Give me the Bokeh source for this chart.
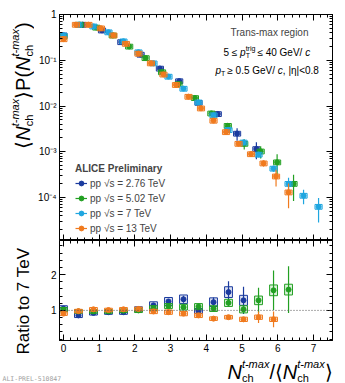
import math
from bokeh.plotting import figure
from bokeh.models import (Range1d, LinearAxis, LogAxis, Label, Span, Legend, LegendItem,
                          CustomJSTickFormatter, SingleIntervalTicker, LogTicker, ColumnDataSource)
from bokeh.layouts import column, row
from bokeh.embed import file_html
from bokeh.resources import INLINE

# ---------------- data ----------------
series_names = ["pp √s = 2.76 TeV", "pp √s = 5.02 TeV", "pp √s = 7 TeV", "pp √s = 13 TeV"]
colors = ["#1a3a9e", "#22a022", "#1fa6e0", "#f07a1e"]

x_276 = [0.00, 0.54, 1.08, 1.62, 2.16, 2.70, 3.24, 3.78, 4.32, 4.86, 5.40]
y_276 = [0.35, 0.60, 0.45, 0.25, 0.133, 0.066, 0.035, 0.0118, 0.0067, 0.0025, 0.00115]
e_276 = [0.01, 0.01, 0.01, 0.02, 0.02, 0.03, 0.05, 0.08, 0.12, 0.30, 0.40]

x_502 = [0.00, 0.46, 0.92, 1.38, 1.84, 2.30, 2.76, 3.22, 3.68, 4.14, 4.60, 5.06, 5.52, 5.98, 6.44]
y_502 = [0.33, 0.60, 0.52, 0.35, 0.20, 0.112, 0.055, 0.030, 0.015, 0.0069, 0.0037, 0.0015,
         0.00102, 0.00059, 0.00020]
e_502 = [0.01, 0.01, 0.01, 0.01, 0.02, 0.02, 0.03, 0.04, 0.06, 0.08, 0.12, 0.25, 0.30, 0.50, 0.58]

x_7 = [0.00, 0.42, 0.84, 1.26, 1.68, 2.10, 2.52, 2.94, 3.36, 3.78, 4.20, 4.62, 5.04, 5.46,
       5.88, 6.30, 6.72, 7.14]
y_7 = [0.35, 0.60, 0.55, 0.41, 0.26, 0.15, 0.086, 0.044, 0.024, 0.012, 0.0063, 0.0030,
       0.0016, 0.00087, 0.00043, 0.00020, 0.00011, 0.000063]
e_7 = [0.01, 0.01, 0.01, 0.01, 0.01, 0.01, 0.02, 0.02, 0.03, 0.03, 0.04, 0.05, 0.06, 0.10,
       0.15, 0.35, 0.35, 0.55]

x_13 = [0.00, 0.35, 0.70, 1.05, 1.40, 1.75, 2.10, 2.45, 2.80, 3.15, 3.50, 3.85, 4.20, 4.55,
        4.90, 5.25, 5.60, 5.95, 6.30]
y_13 = [0.29, 0.60, 0.60, 0.50, 0.35, 0.23, 0.14, 0.086, 0.049, 0.029, 0.016, 0.0089, 0.0048,
        0.0027, 0.0015, 0.00089, 0.00056, 0.00029, 0.00013]
e_13 = [0.01, 0.01, 0.01, 0.01, 0.01, 0.01, 0.01, 0.02, 0.02, 0.02, 0.03, 0.03, 0.04, 0.04,
        0.05, 0.08, 0.15, 0.40, 0.55]

sys_top = [0.12, 0.12, 0.12, 0.12]

# ratio to 7 TeV (evaluated on the 7 TeV bins)
rx_276 = [0.00, 0.42, 0.84, 1.26, 1.68, 2.10, 2.52, 2.94, 3.36, 3.78, 4.20, 4.62, 5.04]
r_276 = [1.05, 0.86, 0.93, 0.95, 0.95, 1.03, 1.14, 1.25, 1.31, 0.98, 1.23, 1.51, 1.28]
rs_276 = [0.02, 0.02, 0.02, 0.02, 0.02, 0.03, 0.04, 0.06, 0.10, 0.04, 0.13, 0.30, 0.38]
ry_276 = [0.08, 0.06, 0.06, 0.06, 0.06, 0.07, 0.10, 0.11, 0.12, 0.07, 0.12, 0.15, 0.14]

rx_502 = [0.00, 0.42, 0.84, 1.26, 1.68, 2.10, 2.52, 2.94, 3.36, 3.78, 4.20, 4.62, 5.04, 5.46,
          5.88, 6.30]
r_502 = [1.02, 0.97, 0.97, 0.97, 0.99, 1.00, 1.06, 1.12, 1.09, 1.11, 1.05, 1.21, 1.03, 1.28,
         1.56, 1.58]
rs_502 = [0.01, 0.01, 0.01, 0.01, 0.02, 0.02, 0.03, 0.04, 0.05, 0.06, 0.06, 0.10, 0.10, 0.35,
          0.55, 0.65]
ry_502 = [0.06, 0.05, 0.05, 0.05, 0.05, 0.06, 0.07, 0.07, 0.08, 0.08, 0.08, 0.10, 0.10, 0.12,
          0.15, 0.15]

rx_13 = [0.00, 0.42, 0.84, 1.26, 1.68, 2.10, 2.52, 2.94, 3.36, 3.78, 4.20, 4.62, 5.04, 5.46, 5.88]
r_13 = [0.91, 0.98, 1.03, 1.01, 1.03, 1.04, 0.97, 0.95, 0.91, 0.86, 0.77, 0.81, 0.75, 0.81, 0.75]
rs_13 = [0.01, 0.01, 0.01, 0.01, 0.01, 0.01, 0.02, 0.02, 0.02, 0.03, 0.03, 0.04, 0.05, 0.16, 0.22]
ry_13 = [0.05, 0.05, 0.05, 0.05, 0.05, 0.05, 0.06, 0.06, 0.06, 0.06, 0.05, 0.05, 0.06, 0.06, 0.06]

x_ticks_step = 1

FONT = "Liberation Sans"
LW = 34          # width of the left title strip
W = 309          # width of the data panels
BOX_W = 0.2

# ---------------- figures ----------------
top = figure(width=W, height=240, x_range=Range1d(-0.11, 7.53), y_range=Range1d(1.15e-5, 1.0),
             y_axis_type="log", output_backend="svg", toolbar_location=None,
             min_border_left=25, min_border_right=11, min_border_top=14, min_border_bottom=0)
bot = figure(width=W, height=115, x_range=top.x_range, y_range=Range1d(0.16, 2.95),
             output_backend="svg", toolbar_location=None,
             min_border_left=25, min_border_right=11, min_border_top=0, min_border_bottom=15)


def text_canvas(w, h):
    f = figure(width=w, height=h, output_backend="svg", toolbar_location=None,
               x_axis_location=None, y_axis_location=None, min_border=0, min_border_left=0,
               min_border_right=0, min_border_top=0, min_border_bottom=0)
    f.grid.visible = False
    f.outline_line_color = None
    f.background_fill_color = "white"
    f.border_fill_color = "white"
    try:
        f.frame_align = False
    except Exception:
        pass
    return f


lt = text_canvas(LW, 240)
lb = text_canvas(LW, 115)
xf = text_canvas(LW + W, 27)

empty = CustomJSTickFormatter(code="return ''")
logfmt = CustomJSTickFormatter(code="""
const e = Math.round(Math.log10(tick));
if (e == 0) return '1';
const sup = {'-':'\u207b','0':'\u2070','1':'\u00b9','2':'\u00b2','3':'\u00b3','4':'\u2074','5':'\u2075','6':'\u2076','7':'\u2077','8':'\u2078','9':'\u2079'};
return '10' + String(e).split('').map(c => sup[c]).join('');
""")


def style_axis(ax, labels=True):
    ax.major_tick_in = 6
    ax.major_tick_out = 0
    ax.minor_tick_in = 3
    ax.minor_tick_out = 0
    ax.axis_line_color = "black"
    ax.major_tick_line_color = "black"
    ax.minor_tick_line_color = "black"
    ax.major_label_text_font = FONT
    ax.major_label_text_font_size = "10px"
    ax.major_label_text_color = "black"
    if labels:
        ax.major_label_standoff = 3
    else:
        ax.formatter = empty
        ax.major_label_standoff = 0
        ax.major_label_text_font_size = "0px"


for fig in (top, bot):
    fig.grid.visible = False
    fig.outline_line_color = "black"
    fig.outline_line_width = 1
    fig.background_fill_color = "white"
    fig.border_fill_color = "white"

# top panel axes
top.xaxis.ticker = SingleIntervalTicker(interval=x_ticks_step, num_minor_ticks=5)
style_axis(top.xaxis[0], labels=False)
top.yaxis.ticker = LogTicker(num_minor_ticks=10)
top.yaxis.formatter = logfmt
style_axis(top.yaxis[0], labels=True)
ax = LinearAxis(ticker=SingleIntervalTicker(interval=x_ticks_step, num_minor_ticks=5))
style_axis(ax, labels=False)
top.add_layout(ax, "above")
ax = LogAxis(ticker=LogTicker(num_minor_ticks=10))
style_axis(ax, labels=False)
top.add_layout(ax, "right")

# bottom panel axes
bot.xaxis.ticker = SingleIntervalTicker(interval=x_ticks_step, num_minor_ticks=5)
style_axis(bot.xaxis[0], labels=True)
bot.yaxis.ticker = SingleIntervalTicker(interval=1, num_minor_ticks=5)
style_axis(bot.yaxis[0], labels=True)
ax = LinearAxis(ticker=SingleIntervalTicker(interval=x_ticks_step, num_minor_ticks=5))
style_axis(ax, labels=False)
bot.add_layout(ax, "above")
ax = LinearAxis(ticker=SingleIntervalTicker(interval=1, num_minor_ticks=5))
style_axis(ax, labels=False)
bot.add_layout(ax, "right")

# ---------------- top spectra ----------------
top_data = [(x_276, y_276, e_276), (x_502, y_502, e_502), (x_7, y_7, e_7), (x_13, y_13, e_13)]
legend_items = []
for (xs, ys, es), col, name, s in zip(top_data, colors, series_names, sys_top):
    src = ColumnDataSource(dict(
        x=xs, y=ys,
        lo=[y * (1 - e) for y, e in zip(ys, es)], hi=[y * (1 + e) for y, e in zip(ys, es)],
        l=[x - BOX_W / 2 for x in xs], r=[x + BOX_W / 2 for x in xs],
        b=[y * (1 - s) for y in ys], t=[y * (1 + s) for y in ys]))
    top.quad(left="l", right="r", bottom="b", top="t", source=src,
             fill_color=col, fill_alpha=0.15, line_color=col, line_width=1)
    seg = top.segment(x0="x", x1="x", y0="lo", y1="hi", source=src, line_color=col, line_width=1.2)
    dot = top.scatter(x="x", y="y", source=src, marker="circle", size=5, fill_color=col,
                      line_color=col)
    legend_items.append(LegendItem(label=name, renderers=[seg, dot]))

legend = Legend(items=legend_items, location=(16, 6), title="ALICE Preliminary",
                title_text_font=FONT, title_text_font_style="bold", title_text_font_size="10px",
                title_standoff=3, label_text_font=FONT, label_text_font_size="10px",
                glyph_width=12, glyph_height=12, label_height=12, spacing=3, padding=0, margin=0,
                label_standoff=3, border_line_color=None, background_fill_alpha=0)
top.add_layout(legend)

# ---------------- ratio panel ----------------
bot.add_layout(Span(location=1, dimension="width", line_color="#555555", line_dash="1 2",
                    line_width=1))
ratio_data = [(rx_276, r_276, rs_276, ry_276, colors[0]),
              (rx_502, r_502, rs_502, ry_502, colors[1]),
              (rx_13, r_13, rs_13, ry_13, colors[3])]
for xs, rs, st, sy_, col in ratio_data:
    src = ColumnDataSource(dict(
        x=xs, y=rs,
        lo=[r - e for r, e in zip(rs, st)], hi=[r + e for r, e in zip(rs, st)],
        l=[x - 0.11 for x in xs], r=[x + 0.11 for x in xs],
        b=[r - e for r, e in zip(rs, sy_)], t=[r + e for r, e in zip(rs, sy_)]))
    bot.quad(left="l", right="r", bottom="b", top="t", source=src,
             fill_color=col, fill_alpha=0.15, line_color=col, line_width=1)
    bot.segment(x0="x", x1="x", y0="lo", y1="hi", source=src, line_color=col, line_width=1.2)
    bot.scatter(x="x", y="y", source=src, marker="circle", size=5, fill_color=col, line_color=col)

# ---------------- composed texts ----------------
W_EM = {"N": .722, "c": .5, "h": .556, "t": .278, "-": .333, "m": .833, "a": .556, "x": .5,
        "/": .278, "⟨": .39, "⟩": .39, "P": .667, "(": .333, ")": .333, " ": .278, "≤": .549,
        "≥": .549, "G": .778, "e": .556, "V": .667, "T": .611, "r": .333, "i": .222, "g": .556,
        "p": .556, ".": .278, ",": .278, "|": .26, "η": .556, "<": .584, "s": .5, "o": .556,
        "n": .556, "R": .722}


def tw(s, size):
    return sum(W_EM.get(ch, .556) for ch in s) * size


def gw(g):
    # advance of a group; a ("", px) entry is a pure gap of px pixels
    return max((t[1] if t[0] == "" else tw(t[0], t[1])) for t in g)


def compose(fig, groups, sx, sy, vertical=False, align="left", color="black"):
    total = sum(gw(g) for g in groups)
    pos = -total if align == "right" else 0.0
    for g in groups:
        for t in g:
            if t[0] == "":
                continue
            txt, size, style, shift = t
            if vertical:
                x, y, ang = sx - shift, sy + pos, math.pi / 2
            else:
                x, y, ang = sx + pos, sy + shift, 0
            fig.add_layout(Label(x=x, y=y, x_units="screen", y_units="screen", text=txt,
                                 text_font=FONT, text_font_size=f"{size}px",
                                 text_font_style=style, angle=ang, text_align="left",
                                 text_baseline="alphabetic", text_color=color))
        pos += gw(g)


NCH = [[("N", 20, "italic", 0)], [("ch", 11, "normal", -6), ("t-max", 11, "italic", 8)]]

# y title of the top panel
compose(lt, [[("⟨", 20, "normal", 0)]] + NCH + [[("⟩", 20, "normal", 0)],
             [("P", 20, "normal", 0)], [("(", 20, "normal", 0)]] + NCH +
        [[(")", 20, "normal", 0)]], 22, 92, vertical=True)

# y title of the ratio panel
compose(lb, [[("Ratio to 7 TeV", 17, "normal", 0)]], 23, 1, vertical=True)

# x title of the ratio panel
compose(xf, NCH + [[("/", 20, "normal", 0)], [("⟨", 20, "normal", 0)]] + NCH +
        [[("⟩", 20, "normal", 0)]], 332, 11, align="right")

xf.add_layout(Label(x=2, y=4, x_units="screen", y_units="screen", text="ALI-PREL-510847",
                    text_font="DejaVu Sans Mono", text_font_size="6.5px", text_color="#a0a0a0",
                    text_baseline="alphabetic"))

# region description
top.add_layout(Label(x=210, y=208, x_units="screen", y_units="screen", text="Trans-max region",
                     text_font=FONT, text_font_size="10px", text_align="center",
                     text_baseline="alphabetic"))
compose(top, [[("5 ≤ ", 10, "normal", 0)], [("p", 10, "italic", 0)],
              [("T", 7, "normal", -3), ("trig", 7, "normal", 4)], [("", 2)],
              [(" ≤ 40 GeV/", 10, "normal", 0)], [("c", 10, "italic", 0)]], 164, 188)
compose(top, [[("p", 10, "italic", 0)], [("T", 7, "normal", -3)], [("", 2)],
              [(" ≥ 0.5 GeV/", 10, "normal", 0)], [("c", 10, "italic", 0)],
              [(", |η|<0.8", 10, "normal", 0)]], 156, 170)

layout = column(row(lt, top), row(lb, bot), xf)
open("out.html", "w").write(file_html(layout, INLINE))
